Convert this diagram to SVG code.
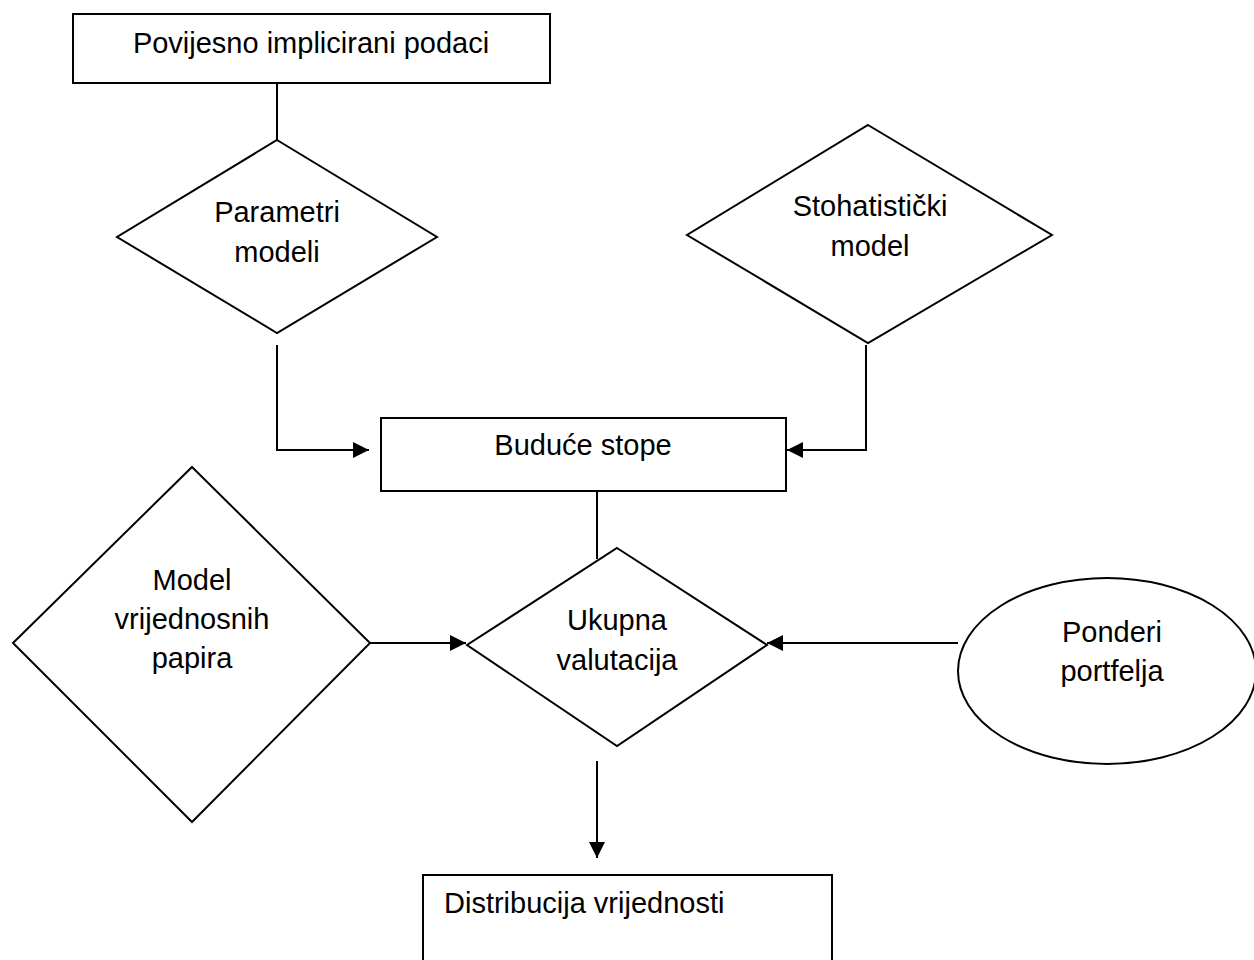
<svg xmlns="http://www.w3.org/2000/svg" width="1254" height="960" viewBox="0 0 1254 960">
<defs>
<marker id="arr" markerWidth="8" markerHeight="8" refX="8" refY="4" orient="auto" markerUnits="strokeWidth">
<path d="M0,0 L8,4 L0,8 Z" fill="#000"/>
</marker>
<style>
.s{fill:#fff;stroke:#000;stroke-width:2}
.t{font-family:"Liberation Sans",Arial,sans-serif;font-size:29px;fill:#000}
.c{text-anchor:middle}
.l{fill:none;stroke:#000;stroke-width:2}
</style>
</defs>
<rect width="1254" height="960" fill="#fff"/>
<g id="connectors">
<path class="l" d="M277,83 V140"/>
<path class="l" d="M277,345 V450 H369" marker-end="url(#arr)"/>
<path class="l" d="M866,345 V450 H787" marker-end="url(#arr)"/>
<path class="l" d="M597,491 V559"/>
<path class="l" d="M370,643 H466" marker-end="url(#arr)"/>
<path class="l" d="M958,643 H767" marker-end="url(#arr)"/>
<path class="l" d="M597,761 V858" marker-end="url(#arr)"/>
</g>
<g id="n1">
<rect class="s" x="73" y="14" width="477" height="69"/>
<text class="t c" x="311" y="53">Povijesno implicirani podaci</text>
</g>
<g id="n2">
<polygon class="s" points="277,140 437,237 277,333 117,237"/>
<text class="t c" x="277" y="222">Parametri</text>
<text class="t c" x="277" y="262">modeli</text>
</g>
<g id="n3">
<polygon class="s" points="868,125 1052,235 868,343 687,235"/>
<text class="t c" x="870" y="216">Stohatistički</text>
<text class="t c" x="870" y="256">model</text>
</g>
<g id="n4">
<rect class="s" x="381" y="418" width="405" height="73"/>
<text class="t c" x="583" y="455">Buduće stope</text>
</g>
<g id="n5">
<polygon class="s" points="617,548 767,645 617,746 467,645"/>
<text class="t c" x="617" y="630">Ukupna</text>
<text class="t c" x="617" y="670">valutacija</text>
</g>
<g id="n6">
<polygon class="s" points="192,467 370,643 192,822 13,643"/>
<text class="t c" x="192" y="590">Model</text>
<text class="t c" x="192" y="629">vrijednosnih</text>
<text class="t c" x="192" y="668">papira</text>
</g>
<g id="n7">
<ellipse class="s" cx="1107" cy="671" rx="149" ry="93"/>
<text class="t c" x="1112" y="642">Ponderi</text>
<text class="t c" x="1112" y="681">portfelja</text>
</g>
<g id="n8">
<rect class="s" x="423" y="875" width="409" height="100"/>
<text class="t" x="444" y="913">Distribucija vrijednosti</text>
</g>
</svg>
